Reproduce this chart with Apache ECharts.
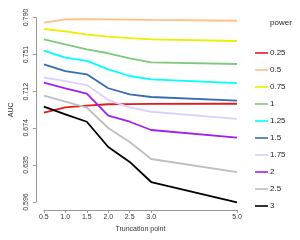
<!DOCTYPE html>
<html><head><meta charset="utf-8">
<script src="https://cdn.jsdelivr.net/npm/echarts@6/dist/echarts.min.js"></script>
<style>html,body{margin:0;padding:0;background:#fff}#c{width:300px;height:240px}</style>
</head><body><div id="c"></div>
<script>
const truncation = [0.5, 1.0, 1.5, 2.0, 2.5, 3.0, 5.0];
const xTicks = [0.5, 1.0, 1.5, 2.0, 2.5, 3.0, 5.0];
const yTicks = [0.596, 0.635, 0.674, 0.712, 0.751, 0.790];
const powers = ['0.25', '0.5', '0.75', '1', '1.25', '1.5', '1.75', '2', '2.5', '3'];
const auc_p025 = [0.6899, 0.6956, 0.6973, 0.6988, 0.6990, 0.6991, 0.6993];
const auc_p05  = [0.7845, 0.7881, 0.7882, 0.7880, 0.7877, 0.7874, 0.7866];
const auc_p075 = [0.7779, 0.7755, 0.7719, 0.7698, 0.7684, 0.7671, 0.7653];
const auc_p1   = [0.7671, 0.7618, 0.7566, 0.7524, 0.7471, 0.7429, 0.7411];
const auc_p125 = [0.7551, 0.7477, 0.7443, 0.7355, 0.7285, 0.7250, 0.7211];
const auc_p15  = [0.7408, 0.7337, 0.7303, 0.7156, 0.7092, 0.7064, 0.7025];
const auc_p175 = [0.7269, 0.7232, 0.7190, 0.7032, 0.6956, 0.6909, 0.6833];
const auc_p2   = [0.7214, 0.7156, 0.7099, 0.6867, 0.6804, 0.6717, 0.6636];
const auc_p25  = [0.7078, 0.7015, 0.6952, 0.6738, 0.6591, 0.6412, 0.6275];
const auc_p3   = [0.6962, 0.6882, 0.6804, 0.6538, 0.6381, 0.6170, 0.5957];
const allSeries = [auc_p025, auc_p05, auc_p075, auc_p1, auc_p125, auc_p15, auc_p175, auc_p2, auc_p25, auc_p3];
const colors = ['#E41A1C', '#FDC086', '#EEEE00', '#7FC97F', '#00FFFF', '#386CB0', '#DCD0FF', '#A020F0', '#BEBEBE', '#000000'];

const chart = echarts.init(document.getElementById('c'), null, {renderer: 'canvas'});
const axisFont = {fontFamily: 'Liberation Sans', fontSize: 7, color: '#333'};
chart.setOption({
  animation: false,
  backgroundColor: '#fff',
  color: colors,
  title: {text: 'power', left: 265, top: 14, textStyle: {fontFamily: 'Liberation Sans', fontSize: 8, fontWeight: 'normal', color: '#222'}},
  legend: {
    orient: 'vertical', left: 250, top: 43,
    itemWidth: 13, itemHeight: 1.6, itemGap: 7, icon: 'rect',
    textStyle: {fontFamily: 'Liberation Sans', fontSize: 8, color: '#222', lineHeight: 10, padding: [0, 0, 0, -3]},
    data: powers
  },
  grid: {left: 38, right: 63, top: 17.5, bottom: 38, containLabel: false},
  xAxis: {
    type: 'value', min: 0.5, max: 5.0, offset: 8,
    name: 'Truncation point', nameLocation: 'middle', nameGap: 15,
    nameTextStyle: axisFont,
    axisLine: {show: true, lineStyle: {color: '#999', width: 1}},
    axisTick: {show: true, length: 3, lineStyle: {color: '#999'}, customValues: xTicks},
    axisLabel: Object.assign({margin: 4, customValues: xTicks, formatter: v => v.toFixed(1)}, axisFont),
    splitLine: {show: false}
  },
  yAxis: {
    type: 'value', min: 0.596, max: 0.790, offset: 8,
    name: 'AUC', nameLocation: 'middle', nameGap: 19, nameRotate: 90,
    nameTextStyle: axisFont,
    axisLine: {show: true, lineStyle: {color: '#999', width: 1}},
    axisTick: {show: true, length: 3, lineStyle: {color: '#999'}, customValues: yTicks},
    axisLabel: Object.assign({margin: 6, rotate: 90, customValues: yTicks, formatter: v => v.toFixed(3)}, axisFont),
    splitLine: {show: false}
  },
  series: powers.map((p, i) => ({
    name: p, type: 'line', clip: false, showSymbol: false, symbol: 'none',
    lineStyle: {width: 1.8, color: colors[i]},
    itemStyle: {color: colors[i]},
    data: truncation.map((x, j) => [x, allSeries[i][j]])
  }))
});
</script></body></html>
